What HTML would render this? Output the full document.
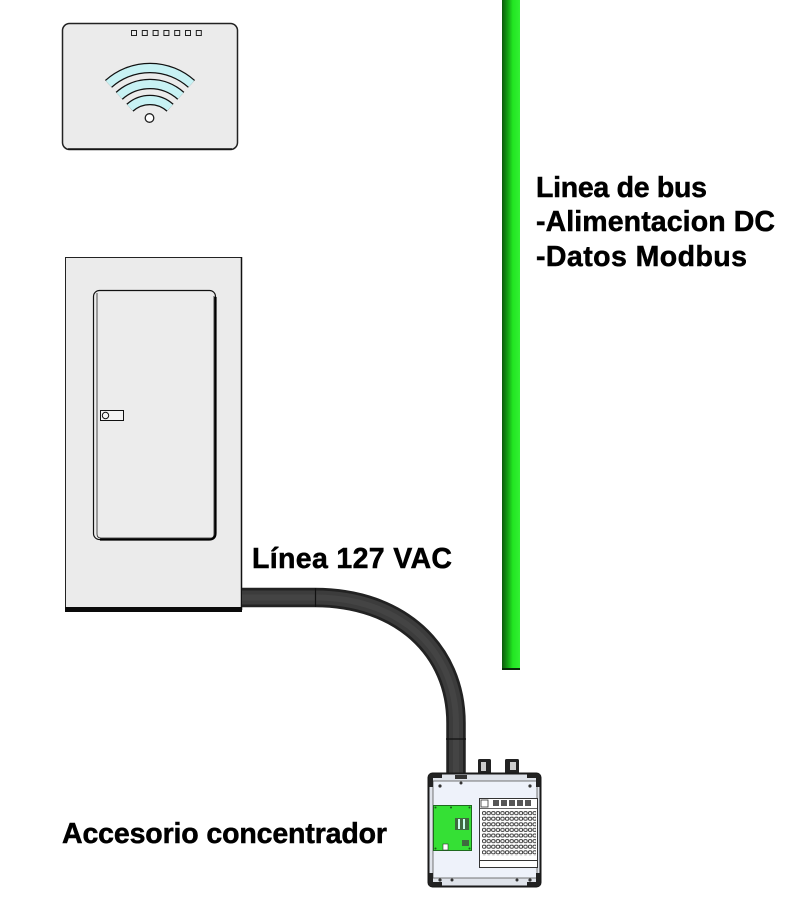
<!DOCTYPE html>
<html>
<head>
<meta charset="utf-8">
<style>
html,body{margin:0;padding:0;background:#fff;}
svg{display:block;}
text{font-family:"Liberation Sans",Arial,sans-serif;font-weight:bold;font-size:28.5px;fill:#000;stroke:#000;stroke-width:0.5px;}
</style>
</head>
<body>
<svg width="789" height="905" viewBox="0 0 789 905" xmlns="http://www.w3.org/2000/svg">
<defs>
  <linearGradient id="g" x1="0" y1="0" x2="1" y2="0">
    <stop offset="0" stop-color="#0b5a0b"/>
    <stop offset="0.35" stop-color="#16a816"/>
    <stop offset="0.6" stop-color="#22e622"/>
    <stop offset="1" stop-color="#33f033"/>
  </linearGradient>
  <pattern id="dots" x="482" y="811" width="4.6" height="5.6" patternUnits="userSpaceOnUse">
    <rect x="0.4" y="0.6" width="3.4" height="3" rx="1.2" fill="none" stroke="#333" stroke-width="0.9"/>
  </pattern>
</defs>

<!-- Router -->
<rect x="62.5" y="23.5" width="175" height="126" rx="7" fill="#ebebeb" stroke="#222" stroke-width="1.5"/>
<line x1="68" y1="149" x2="232" y2="149" stroke="#111" stroke-width="1.5"/>
<g fill="none" stroke="#222" stroke-width="1">
  <rect x="131.5" y="30.5" width="5" height="5"/>
  <rect x="142.3" y="30.5" width="5" height="5"/>
  <rect x="153.1" y="30.5" width="5" height="5"/>
  <rect x="163.9" y="30.5" width="5" height="5"/>
  <rect x="174.7" y="30.5" width="5" height="5"/>
  <rect x="185.5" y="30.5" width="5" height="5"/>
  <rect x="196.3" y="30.5" width="5" height="5"/>
</g>
<!-- wifi arcs -->
<g fill="none" stroke-linecap="butt">
  <path d="M 108.5 83.9 A 62 62 0 0 1 191.5 83.9" stroke="#111" stroke-width="10.5"/>
  <path d="M 108.5 83.9 A 62 62 0 0 1 191.5 83.9" stroke="#c8f2f4" stroke-width="8"/>
  <path d="M 119.2 95.8 A 46 46 0 0 1 180.8 95.8" stroke="#111" stroke-width="10.5"/>
  <path d="M 119.2 95.8 A 46 46 0 0 1 180.8 95.8" stroke="#c8f2f4" stroke-width="8"/>
  <path d="M 129.9 107.7 A 30 30 0 0 1 170.1 107.7" stroke="#111" stroke-width="10.5"/>
  <path d="M 129.9 107.7 A 30 30 0 0 1 170.1 107.7" stroke="#c8f2f4" stroke-width="8"/>
</g>
<circle cx="149.5" cy="118" r="4.3" fill="#fff" stroke="#222" stroke-width="1.3"/>

<!-- Electrical panel -->
<rect x="65.5" y="257.5" width="176" height="352" fill="#ebebeb" stroke="#222" stroke-width="1"/>
<line x1="241.5" y1="257" x2="241.5" y2="610" stroke="#111" stroke-width="1.5"/>
<rect x="65" y="607" width="177" height="5" fill="#0a0a0a"/>
<!-- door -->
<rect x="93.5" y="290.5" width="122" height="249" rx="6" fill="#ececec" stroke="#111" stroke-width="1.2"/>
<path d="M 97 293 L 97 534 Q 97 538 101 538 L 211 538 Q 214 538 214 534 L 214 296" fill="none" stroke="#222" stroke-width="0.8"/>
<path d="M 215.5 297 L 215.5 533 Q 215.5 539.5 209 539.5 L 100 539.5" fill="none" stroke="#000" stroke-width="2.2"/>
<rect x="100.5" y="410.5" width="23" height="10" fill="#f4f4f4" stroke="#111" stroke-width="1"/>
<circle cx="105.5" cy="415.5" r="3.2" fill="none" stroke="#111" stroke-width="1"/>

<!-- Green bus line -->
<rect x="502" y="0" width="18" height="669" fill="url(#g)"/>
<rect x="502" y="668" width="18" height="2" fill="#0a2a0a"/>

<!-- Cable -->
<path d="M 242 597.5 L 315 597.5 C 400 597.5 456 650 456 723 L 456 776" fill="none" stroke="#222" stroke-width="19.5"/>
<path d="M 242 597.5 L 315 597.5 C 400 597.5 456 650 456 723 L 456 776" fill="none" stroke="#3c3c3c" stroke-width="14"/>
<path d="M 242 597.5 L 315 597.5 C 400 597.5 456 650 456 723 L 456 776" fill="none" stroke="#444" stroke-width="6"/>
<line x1="315.5" y1="588" x2="315.5" y2="607" stroke="#111" stroke-width="1.2"/>
<line x1="446" y1="739" x2="466" y2="739" stroke="#111" stroke-width="1.2"/>

<!-- Hub device -->
<!-- glands -->
<rect x="478" y="759" width="13" height="15" rx="1.5" fill="#222"/>
<rect x="481" y="762" width="5" height="9" fill="#ccc"/>
<rect x="505" y="759" width="14" height="15" rx="1.5" fill="#222"/>
<rect x="510" y="762" width="6" height="8" fill="#ccc"/>
<!-- body -->
<rect x="428.5" y="773.5" width="112" height="113" rx="4" fill="#dfe3ea" stroke="#1a1a1a" stroke-width="2"/>
<rect x="433" y="781" width="104" height="97" fill="#eef2fa" stroke="#555" stroke-width="0.8"/>
<!-- corner brackets -->
<g fill="#222">
  <path d="M 429 774 h 13 v 4 h -9 v 9 h -4 z"/>
  <path d="M 540 774 h -13 v 4 h 9 v 9 h 4 z"/>
  <path d="M 429 886 h 13 v -4 h -9 v -9 h -4 z"/>
  <path d="M 540 886 h -13 v -4 h 9 v -9 h 4 z"/>
</g>
<g fill="#333">
  <circle cx="440" cy="786" r="1.6"/>
  <circle cx="530" cy="786" r="1.6"/>
  <circle cx="440" cy="880" r="1.6"/>
  <circle cx="530" cy="880" r="1.6"/>
  <circle cx="461" cy="783" r="1.5"/>
  <circle cx="452" cy="880" r="1.5"/>
  <circle cx="517" cy="880" r="1.5"/>
</g>
<rect x="455" y="775" width="12" height="4" fill="#333"/>
<!-- green PCB -->
<rect x="433.5" y="805.5" width="38" height="45" fill="#35e035" stroke="#1d6a1d" stroke-width="1"/>
<rect x="455" y="818" width="14" height="12" fill="#3f6a3f"/>
<rect x="458" y="819" width="2" height="10" fill="#cfe"/>
<rect x="463" y="819" width="2" height="10" fill="#cfe"/>
<rect x="462" y="840" width="7" height="6" fill="#3f6a3f"/>
<rect x="443" y="844" width="5" height="6" fill="#fff" stroke="#333" stroke-width="0.6"/>
<g fill="#1d5a1d">
  <circle cx="435.5" cy="807.5" r="1"/>
  <circle cx="469.5" cy="807.5" r="1"/>
  <circle cx="435.5" cy="848.5" r="1"/>
  <circle cx="469.5" cy="848.5" r="1"/>
  <circle cx="451" cy="807.5" r="1"/>
</g>
<!-- terminal block -->
<rect x="479.5" y="798.5" width="58" height="69" fill="#fff" stroke="#333" stroke-width="1"/>
<rect x="481" y="800" width="7" height="7" fill="#fff" stroke="#333" stroke-width="0.8"/>
<g fill="#555">
  <rect x="493" y="800" width="6" height="6"/>
  <rect x="501" y="800" width="6" height="6"/>
  <rect x="509" y="800" width="6" height="6"/>
  <rect x="517" y="800" width="6" height="6"/>
  <rect x="525" y="800" width="6" height="6"/>
</g>
<line x1="480" y1="808.5" x2="537" y2="808.5" stroke="#333" stroke-width="0.8"/>
<rect x="482" y="811" width="54" height="45" fill="url(#dots)"/>
<line x1="480" y1="860.5" x2="537" y2="860.5" stroke="#333" stroke-width="1"/>

<!-- Labels -->
<text x="536" y="197" textLength="171" lengthAdjust="spacing">Linea de bus</text>
<text x="536" y="231" textLength="239" lengthAdjust="spacing">-Alimentacion DC</text>
<text x="536" y="266" textLength="211" lengthAdjust="spacing">-Datos Modbus</text>
<text x="252" y="568" textLength="200" lengthAdjust="spacing">Línea 127 VAC</text>
<text x="62" y="843" textLength="325" lengthAdjust="spacing">Accesorio concentrador</text>
</svg>
</body>
</html>
